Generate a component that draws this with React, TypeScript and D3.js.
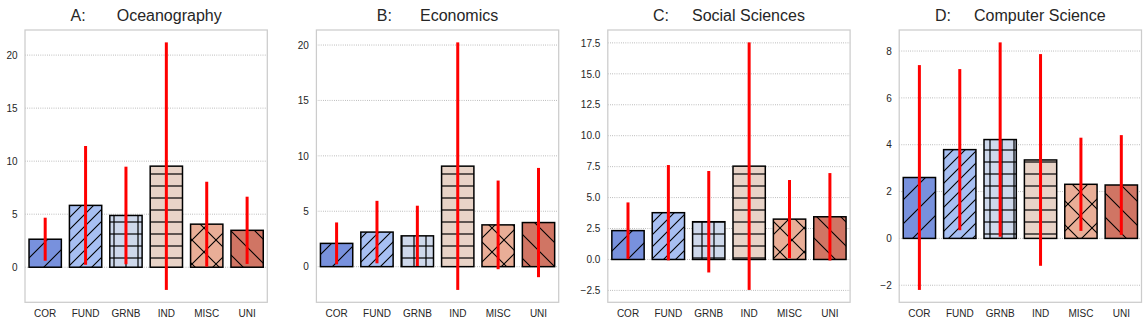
import React, { useEffect, useRef } from 'react';
import * as d3 from 'd3';

const categories = ['COR', 'FUND', 'GRNB', 'IND', 'MISC', 'UNI'];
const panelLetters = ['A:', 'B:', 'C:', 'D:'];
const panelNames = ['Oceanography', 'Economics', 'Social Sciences', 'Computer Science'];

const meansA = [2.64, 5.83, 4.88, 9.53, 4.06, 3.48];
const errsA = [2.03, 5.6, 4.6, 11.67, 4.0, 3.17];
const meansB = [2.1, 3.12, 2.78, 9.07, 3.77, 3.98];
const errsB = [1.89, 2.82, 2.72, 11.17, 4.0, 4.93];
const meansC = [2.33, 3.78, 3.05, 7.54, 3.26, 3.45];
const errsC = [2.28, 3.85, 4.1, 10.0, 3.16, 3.53];
const meansD = [2.6, 3.79, 4.22, 3.35, 2.31, 2.28];
const errsD = [4.8, 3.44, 4.15, 4.52, 1.99, 2.13];

const yTicksA = [0, 5, 10, 15, 20];
const yTicksB = [0, 5, 10, 15, 20];
const yTicksC = [-2.5, 0, 2.5, 5, 7.5, 10, 12.5, 15, 17.5];
const yTicksD = [-2, 0, 2, 4, 6, 8];

// seaborn coolwarm, 6 colours (barplot desaturates them to 0.75)
const palette = ['#6788ee', '#9abbff', '#c9d7f0', '#edd1c2', '#f7a889', '#e26952'];
const hatches = ['/', '//', '+', '-', 'x', '\\'];

const W = 1148;
const H = 325;

const desat = (c: string) => {
  const h = d3.hsl(c);
  h.s *= 0.75;
  return h.formatHex();
};

const App = () => {
  const ref = useRef<SVGSVGElement>(null);

  useEffect(() => {
    const svg = d3.select(ref.current);
    svg.selectAll('*').remove();

    const defs = svg.append('defs');
    const addPattern = (id: string, size: number, paths: { d: string; w: number; o: number }[], tx: number) => {
      const p = defs
        .append('pattern')
        .attr('id', id)
        .attr('patternUnits', 'userSpaceOnUse')
        .attr('width', size)
        .attr('height', size)
        .attr('patternTransform', `translate(${tx},0)`);
      paths.forEach((q) => {
        p.append('path')
          .attr('d', q.d)
          .attr('stroke', '#000')
          .attr('stroke-width', q.w)
          .attr('stroke-opacity', q.o)
          .attr('fill', 'none');
      });
    };
    const fwd24 = 'M-2,2L2,-2M0,24L24,0M22,26L26,22';
    const back24 = 'M0,0L24,24M-2,22L2,26M22,-2L26,2';
    // one pattern per entry of hatches
    addPattern('h0', 24, [{ d: fwd24, w: 1.1, o: 1 }], -1);
    addPattern('h1', 12, [{ d: 'M-2,2L2,-2M0,12L12,0M10,14L14,10', w: 1.1, o: 1 }], -1);
    addPattern('h2', 12, [{ d: 'M6,0V12', w: 2, o: 0.6 }, { d: 'M0,6H12', w: 2, o: 0.6 }], 0);
    addPattern('h3', 12, [{ d: 'M0,6H12', w: 2, o: 0.6 }], 0);
    addPattern('h4', 24, [{ d: fwd24, w: 1.1, o: 1 }, { d: back24, w: 1.1, o: 1 }], 0);
    addPattern('h5', 24, [{ d: back24, w: 1.1, o: 1 }], 0);

    const allMeans = [meansA, meansB, meansC, meansD];
    const allErrs = [errsA, errsB, errsC, errsD];
    const allTicks = [yTicksA, yTicksB, yTicksC, yTicksD];
    const fmts = [d3.format('d'), d3.format('d'), d3.format('.1f'), d3.format('d')];

    const top = 30;
    const bottom = 302.3;
    const font = "'Liberation Sans', Arial, sans-serif";

    allMeans.forEach((means, i) => {
      const errs = allErrs[i];
      const left = 25 + i * 291.4;
      const right = left + 242.3;
      const lo = Math.min(0, d3.min(means.map((m, j) => m - errs[j])) as number);
      const hi = Math.max(0, d3.max(means.map((m, j) => m + errs[j])) as number);
      const pad = (hi - lo) * 0.05;

      const y = d3.scaleLinear().domain([lo - pad, hi + pad]).range([bottom, top]);
      const x = d3.scaleBand().domain(categories).range([left, right]).paddingInner(0.2).paddingOuter(0.1);

      const g = svg.append('g');

      // grid
      g.selectAll('line.grid')
        .data(allTicks[i])
        .join('line')
        .attr('class', 'grid')
        .attr('x1', left)
        .attr('x2', right)
        .attr('y1', (d) => y(d))
        .attr('y2', (d) => y(d))
        .attr('stroke', '#999')
        .attr('stroke-width', 0.8)
        .attr('stroke-dasharray', '0.8 1.4');

      const bars = g.selectAll('g.bar').data(categories).join('g').attr('class', 'bar');
      bars.append('rect')
        .attr('x', (d) => x(d) as number)
        .attr('width', x.bandwidth())
        .attr('y', (d, j) => Math.min(y(means[j]), y(0)))
        .attr('height', (d, j) => Math.abs(y(0) - y(means[j])))
        .attr('fill', (d, j) => desat(palette[j]));
      bars.append('rect')
        .attr('x', (d) => x(d) as number)
        .attr('width', x.bandwidth())
        .attr('y', (d, j) => Math.min(y(means[j]), y(0)))
        .attr('height', (d, j) => Math.abs(y(0) - y(means[j])))
        .attr('fill', (d, j) => `url(#h${hatches.indexOf(hatches[j])})`)
        .attr('stroke', '#000')
        .attr('stroke-width', 1.5);

      // error bars
      g.selectAll('line.err')
        .data(categories)
        .join('line')
        .attr('class', 'err')
        .attr('x1', (d) => (x(d) as number) + x.bandwidth() / 2)
        .attr('x2', (d) => (x(d) as number) + x.bandwidth() / 2)
        .attr('y1', (d, j) => y(means[j] - errs[j]))
        .attr('y2', (d, j) => y(means[j] + errs[j]))
        .attr('stroke', '#ff0000')
        .attr('stroke-width', 3);

      // frame
      g.append('rect')
        .attr('x', left)
        .attr('y', top)
        .attr('width', right - left)
        .attr('height', bottom - top)
        .attr('fill', 'none')
        .attr('stroke', '#cccccc')
        .attr('stroke-width', 1.25);

      const yAxis = g.append('g')
        .attr('transform', `translate(${left},0)`)
        .call(d3.axisLeft(y).tickValues(allTicks[i]).tickSize(0).tickPadding(7.5).tickFormat(fmts[i] as any));
      const xAxis = g.append('g')
        .attr('transform', `translate(0,${bottom})`)
        .call(d3.axisBottom(x).tickSize(0).tickPadding(7.5));
      [yAxis, xAxis].forEach((a) => {
        a.select('.domain').remove();
        a.attr('font-family', font).attr('font-size', 10);
        a.selectAll('text').attr('fill', '#262626');
      });

      const title = g.append('text')
        .attr('x', (left + right) / 2)
        .attr('y', 20.5)
        .attr('text-anchor', 'middle')
        .attr('font-family', font)
        .attr('font-size', 16)
        .attr('fill', '#262626');
      title.append('tspan').text(panelLetters[i]);
      title.append('tspan').attr('dx', [31, 28, 23, 23][i]).text(panelNames[i]);
    });
  }, []);

  return (
    <div style={{ position: 'absolute', left: 0, top: 0 }}>
      <svg ref={ref} width={W} height={H} style={{ display: 'block', background: '#fff' }}></svg>
    </div>
  );
};

export default App;
